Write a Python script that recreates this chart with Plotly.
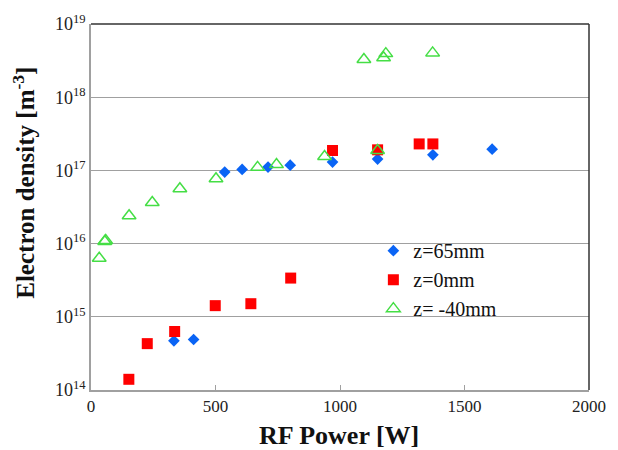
import plotly.graph_objects as go

# RF power [W] and electron density [m^-3] for three axial positions
power_z65 = [333, 412, 537, 607, 711, 800, 970, 1151, 1373, 1611]
dens_z65 = [4.7e14, 4.9e14, 9.5e16, 1.03e17, 1.11e17, 1.18e17, 1.3e17, 1.43e17, 1.63e17, 1.95e17]

power_z0 = [152, 226, 336, 499, 642, 802, 970, 1151, 1318, 1373]
dens_z0 = [1.4e14, 4.3e14, 6.3e14, 1.42e15, 1.51e15, 3.38e15, 1.87e17, 1.91e17, 2.3e17, 2.3e17]

power_zm40 = [33, 55, 59, 153, 246, 357, 502, 669, 745, 938, 1096, 1151, 1175, 1184, 1372]
dens_zm40 = [6.3e15, 1.07e16, 1.1e16, 2.4e16, 3.65e16, 5.6e16, 7.7e16, 1.1e17, 1.2e17, 1.55e17,
             3.27e18, 1.87e17, 3.45e18, 3.94e18, 4.03e18]

x_ticks = [0, 500, 1000, 1500, 2000]
y_exponents = [14, 15, 16, 17, 18, 19]

serif = "Liberation Serif"

fig = go.Figure()
fig.add_trace(go.Scatter(
    x=power_z65, y=dens_z65, mode="markers", name="z=65mm",
    marker=dict(symbol="diamond", size=9, color="#0a64f5"),
))
fig.add_trace(go.Scatter(
    x=power_z0, y=dens_z0, mode="markers", name="z=0mm",
    marker=dict(symbol="square", size=11, color="#ff0000"),
))
fig.add_trace(go.Scatter(
    x=power_zm40, y=dens_zm40, mode="markers", name="z= -40mm",
    marker=dict(symbol="triangle-up-open", size=12, color="#45de45",
                line=dict(width=1.5, color="#45de45")),
))

fig.update_layout(
    width=618, height=450,
    margin=dict(l=91, r=21, t=19, b=60),
    paper_bgcolor="white", plot_bgcolor="white",
    font=dict(family=serif, color="#222222"),
    showlegend=True,
    legend=dict(
        x=0.567, y=0.434, xanchor="left", yanchor="top",
        bgcolor="rgba(255,255,255,0)", borderwidth=0,
        font=dict(family=serif, size=20, color="#111111"),
        tracegroupgap=0,
    ),
    xaxis=dict(
        range=[0, 2000], tickvals=x_ticks, ticktext=[str(v) for v in x_ticks],
        ticks="inside", ticklen=5, tickcolor="#a0a0a0", tickwidth=1,
        showline=True, linecolor="#a0a0a0", linewidth=1.5,
        showgrid=False, zeroline=False,
        tickfont=dict(family=serif, size=17, color="#222222"),
    ),
    yaxis=dict(
        type="log", range=[14, 19],
        tickvals=[10 ** e for e in y_exponents],
        ticktext=[f"10<sup>{e}</sup>" for e in y_exponents],
        ticks="", showline=True, linecolor="#a0a0a0", linewidth=1.5,
        showgrid=True, gridcolor="#a0a0a0", gridwidth=1, zeroline=False,
        tickfont=dict(family=serif, size=18, color="#222222"),
    ),
    shapes=[
        dict(type="line", xref="paper", yref="paper", x0=0, x1=1, y0=1, y1=1,
             line=dict(color="#333333", width=1.5)),
        dict(type="line", xref="paper", yref="paper", x0=1, x1=1, y0=0, y1=1,
             line=dict(color="#333333", width=1.5)),
    ],
    annotations=[
        dict(text="<b>RF Power [W]</b>", xref="paper", yref="paper",
             x=0.498, y=-0.125, xanchor="center", yanchor="middle", showarrow=False,
             font=dict(family=serif, size=26, color="#111111")),
        dict(text="<b>Electron density [m<sup>-3</sup>]</b>", xref="paper", yref="paper",
             x=-0.134, y=0.567, xanchor="center", yanchor="middle", showarrow=False,
             textangle=-90, font=dict(family=serif, size=25, color="#111111")),
    ],
)

fig.write_html("out.html")
